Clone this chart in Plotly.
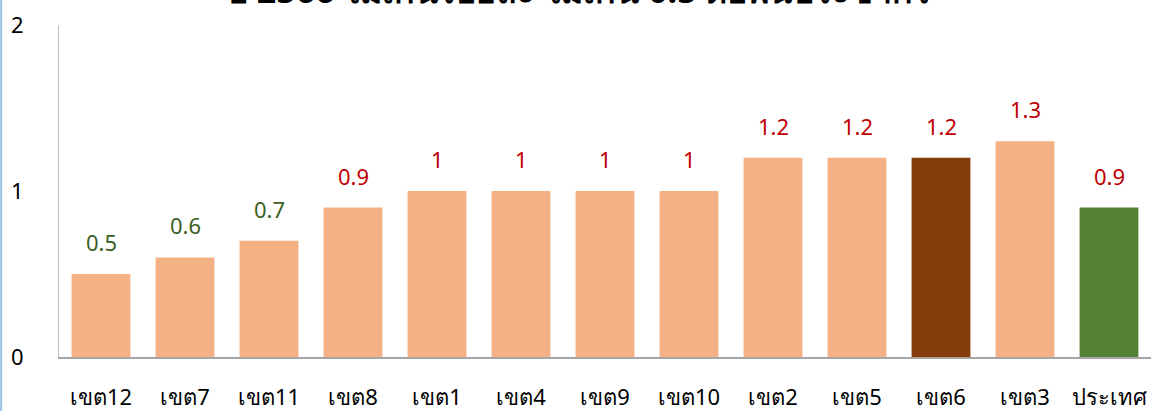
import plotly.graph_objects as go

# -----------------------------------------------------------------
# Data
# -----------------------------------------------------------------
categories = ["เขต12", "เขต7", "เขต11", "เขต8", "เขต1", "เขต4", "เขต9",
              "เขต10", "เขต2", "เขต5", "เขต6", "เขต3", "ประเทศ"]
values = [0.5, 0.6, 0.7, 0.9, 1, 1, 1, 1, 1.2, 1.2, 1.2, 1.3, 0.9]
value_labels = ["0.5", "0.6", "0.7", "0.9", "1", "1", "1", "1",
                "1.2", "1.2", "1.2", "1.3", "0.9"]
y_ticks = [0, 1, 2]
title_text = "ปี 2566 ไม่เกินร้อยละ ไม่เกิน 0.5 ต่อพันประชากร"

# colours
PEACH = "#F4B183"
BROWN = "#843C0C"
GREEN = "#548235"
LBL_GREEN = "#3B5E23"
LBL_RED = "#C00000"

bar_colors = []
for c in categories:
    if c == "เขต6":
        bar_colors.append(BROWN)
    elif c == "ประเทศ":
        bar_colors.append(GREEN)
    else:
        bar_colors.append(PEACH)

label_colors = [LBL_GREEN if v <= 0.7 else LBL_RED for v in values]

FONT = "Noto Sans, sans-serif"

fig = go.Figure(go.Bar(
    x=categories,
    y=values,
    marker=dict(color=bar_colors, line=dict(width=0)),
    hoverinfo="x+y",
))

# value labels floating above bars
for cat, v, txt, col in zip(categories, values, value_labels, label_colors):
    fig.add_annotation(
        x=cat, y=v, text=txt, showarrow=False,
        yanchor="bottom", yshift=15,
        font=dict(family=FONT, size=22, color=col),
    )

# title, mostly cut off by the top edge as in the reference
fig.add_annotation(
    xref="paper", yref="paper", x=0.475, y=1.0,
    xanchor="center", yanchor="bottom", yshift=10, showarrow=False,
    text="<b>" + title_text + "</b>",
    font=dict(family=FONT, size=34, color="black"),
)

fig.update_layout(
    width=1153,
    height=411,
    margin=dict(l=59, r=2, t=25, b=54),
    bargap=0.3,
    plot_bgcolor="white",
    paper_bgcolor="white",
    showlegend=False,
    font=dict(family=FONT, size=22, color="black"),
)

fig.update_xaxes(
    showline=True, linecolor="#A6A6A6", linewidth=2,
    showgrid=False, ticks="", ticklabelstandoff=20,
    automargin=False,
    tickfont=dict(family=FONT, size=22, color="black"),
)
fig.update_yaxes(
    range=[0, 2], tickvals=y_ticks,
    showline=True, linecolor="#BFBFBF", linewidth=1,
    showgrid=False, zeroline=False, ticks="",
    ticklabelstandoff=30, automargin=False,
    tickfont=dict(family=FONT, size=22, color="black"),
)

# thin blue frame edge at the far left of the picture
fig.add_shape(
    type="line", xref="paper", yref="paper",
    x0=-0.053, x1=-0.053, y0=-0.2, y1=1.2,
    line=dict(color="#9DC3E6", width=2),
)

# page has a default body margin; drop it so the figure fills the window
fig.write_html(
    "out.html",
    config={"displayModeBar": False},
    post_script="document.body.style.margin='0';",
)
